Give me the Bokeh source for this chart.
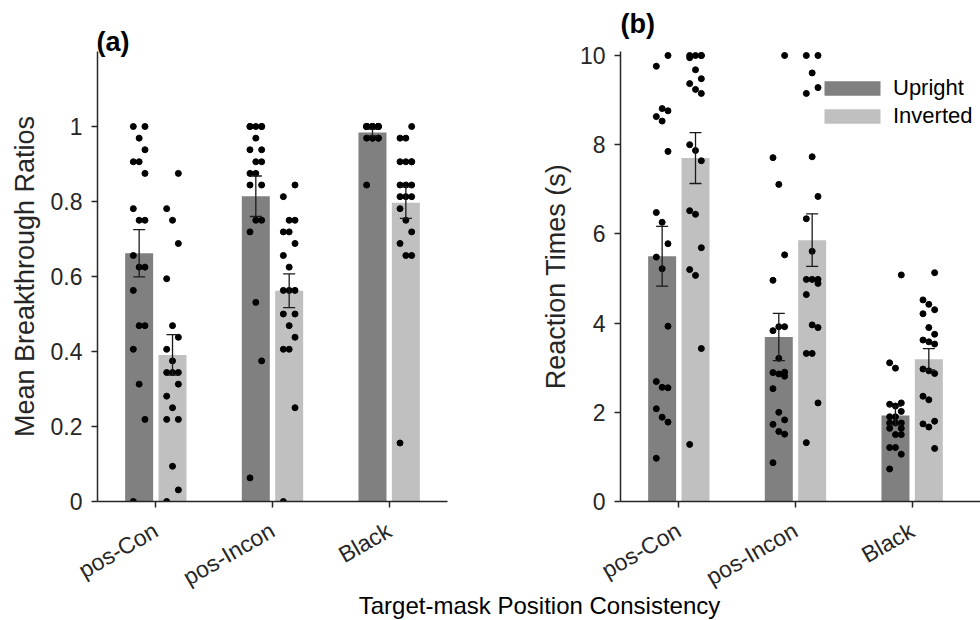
import math
from bokeh.plotting import figure
from bokeh.models import (Range1d, FixedTicker, Whisker, ColumnDataSource, Legend,
                          LegendItem, Label, TeeHead, GridBox)
from bokeh.layouts import row
from bokeh.embed import file_html
from bokeh.resources import INLINE

# ---------------- data ----------------
categories = ["pos-Con", "pos-Incon", "Black"]
conditions = ["Upright", "Inverted"]

# panel (a): mean breakthrough ratios
ratio_mean_upright = [0.662, 0.814, 0.984]
ratio_mean_inverted = [0.391, 0.562, 0.797]
ratio_sem_upright = [0.063, 0.054, 0.009]
ratio_sem_inverted = [0.054, 0.045, 0.042]

ratio_pts_upright = [
    [1.0, 1.0, 0.969, 0.938, 0.906, 0.906, 0.875, 0.781, 0.75, 0.75,
     0.656, 0.625, 0.625, 0.563, 0.469, 0.469, 0.406, 0.313, 0.219, 0.0],
    [1.0, 1.0, 1.0, 1.0, 1.0, 0.969, 0.938, 0.938, 0.906, 0.906,
     0.875, 0.875, 0.844, 0.844, 0.75, 0.75, 0.719, 0.531, 0.375, 0.063],
    [1.0, 1.0, 1.0, 1.0, 1.0, 1.0, 1.0, 1.0, 1.0, 1.0,
     1.0, 1.0, 1.0, 1.0, 0.969, 0.969, 0.969, 0.969, 0.969, 0.844],
]
ratio_pts_inverted = [
    [0.875, 0.781, 0.75, 0.688, 0.594, 0.469, 0.438, 0.406, 0.375, 0.344,
     0.344, 0.344, 0.313, 0.281, 0.25, 0.219, 0.219, 0.094, 0.031, 0.0],
    [0.844, 0.813, 0.75, 0.75, 0.719, 0.719, 0.688, 0.656, 0.625, 0.563,
     0.563, 0.563, 0.5, 0.5, 0.469, 0.438, 0.406, 0.406, 0.25, 0.0],
    [1.0, 0.969, 0.969, 0.906, 0.906, 0.906, 0.906, 0.844, 0.844, 0.844,
     0.813, 0.813, 0.813, 0.781, 0.75, 0.719, 0.688, 0.656, 0.656, 0.156],
]

# panel (b): reaction times (s)
rt_mean_upright = [5.50, 3.69, 1.93]
rt_mean_inverted = [7.70, 5.86, 3.19]
rt_sem_upright = [0.67, 0.53, 0.21]
rt_sem_inverted = [0.57, 0.59, 0.24]

rt_pts_upright = [
    [10.0, 9.76, 8.81, 8.76, 8.63, 8.53, 7.85, 6.48, 6.26, 5.78,
     5.48, 5.22, 3.93, 2.69, 2.56, 2.55, 2.08, 1.89, 1.78, 0.97],
    [10.0, 7.71, 7.11, 5.53, 4.96, 3.92, 3.92, 3.83, 3.21, 2.90,
     2.89, 2.86, 2.81, 2.53, 2.0, 1.83, 1.73, 1.57, 1.51, 0.87],
    [5.08, 3.11, 2.99, 2.21, 2.18, 2.14, 2.02, 1.90, 1.90, 1.76,
     1.76, 1.76, 1.64, 1.64, 1.50, 1.50, 1.21, 1.21, 1.06, 0.73],
]
rt_pts_inverted = [
    [10.0, 10.0, 10.0, 10.0, 9.95, 9.68, 9.48, 9.37, 9.24, 9.15,
     8.0, 7.87, 7.64, 6.52, 6.44, 5.69, 5.2, 5.07, 3.43, 1.28],
    [10.0, 10.0, 9.61, 9.28, 9.15, 7.73, 6.84, 6.34, 5.61, 4.98,
     4.98, 4.98, 4.89, 4.64, 3.96, 3.90, 3.32, 3.32, 2.21, 1.32],
    [5.13, 4.52, 4.42, 4.30, 4.21, 3.90, 3.75, 3.62, 3.58, 3.53,
     2.97, 2.93, 2.87, 2.36, 2.28, 1.80, 1.74, 1.67, 1.19],
]

ratio_ticks = [0, 0.2, 0.4, 0.6, 0.8, 1]
rt_ticks = [0, 2, 4, 6, 8, 10]
panel_tags = ["(a)", "(b)"]
x_title = "Target-mask Position Consistency"

# ---------------- style ----------------
FONT = "Liberation Sans"
AX = "#262626"
C_UP = "#808080"
C_INV = "#c0c0c0"
BAR_OFF = 0.143
BAR_W = 0.24
JIT = 0.05


def dot_xy(groups, side):
    xs, ys = [], []
    for gi, vals in enumerate(groups):
        for i, v in enumerate(sorted(vals, reverse=True)):
            slot = (1, -1, 0)[i % 3]
            xs.append(gi + 1 + side * BAR_OFF + slot * JIT)
            ys.append(v)
    return xs, ys


def panel(width, height, x_end, y_end, mb_left, mb_right, mb_top, mb_bottom,
          means_up, means_inv, sems_up, sems_inv, pts_up, pts_inv,
          yticks, ylabel, ylabel_standoff):
    p = figure(width=width, height=height, x_range=Range1d(0.5, x_end),
               y_range=Range1d(0, y_end), output_backend="svg",
               toolbar_location=None, min_border_left=mb_left,
               min_border_right=mb_right, min_border_top=mb_top,
               min_border_bottom=mb_bottom)
    p.outline_line_color = None
    p.xgrid.visible = False
    p.ygrid.visible = False

    xs_up = [i + 1 - BAR_OFF for i in range(len(categories))]
    xs_inv = [i + 1 + BAR_OFF for i in range(len(categories))]
    r_up = p.vbar(x=xs_up, top=means_up, width=BAR_W, bottom=0,
                  fill_color=C_UP, line_color=None)
    r_inv = p.vbar(x=xs_inv, top=means_inv, width=BAR_W, bottom=0,
                   fill_color=C_INV, line_color=None)

    for groups, side in ((pts_up, -1), (pts_inv, 1)):
        dx, dy = dot_xy(groups, side)
        p.scatter(dx, dy, size=6, marker="circle", fill_color="black",
                  line_color="black")

    for xs, m, s in ((xs_up, means_up, sems_up), (xs_inv, means_inv, sems_inv)):
        src = ColumnDataSource(dict(x=xs,
                                    upper=[a + b for a, b in zip(m, s)],
                                    lower=[a - b for a, b in zip(m, s)]))
        w = Whisker(base="x", upper="upper", lower="lower", source=src,
                    line_color="#1a1a1a", line_width=1.3,
                    upper_head=TeeHead(size=12, line_color="#1a1a1a", line_width=1.3),
                    lower_head=TeeHead(size=12, line_color="#1a1a1a", line_width=1.3))
        w.level = "overlay"
        p.add_layout(w)

    p.xaxis.ticker = FixedTicker(ticks=[1, 2, 3])
    p.xaxis.major_label_overrides = {i + 1: c for i, c in enumerate(categories)}
    p.xaxis.major_label_orientation = math.pi / 6
    p.yaxis.ticker = FixedTicker(ticks=yticks)
    p.yaxis.major_label_overrides = {0: "0", 1: "1"} if yticks[-1] == 1 else {}
    p.yaxis.axis_label = ylabel
    p.yaxis.axis_label_standoff = ylabel_standoff
    p.yaxis.axis_label_text_font = FONT
    p.yaxis.axis_label_text_font_size = "27px"
    p.yaxis.axis_label_text_font_style = "normal"
    p.yaxis.axis_label_text_color = AX
    for ax in (p.xaxis[0], p.yaxis[0]):
        ax.axis_line_color = AX
        ax.axis_line_width = 1.5
        ax.major_tick_line_color = AX
        ax.major_tick_line_width = 1.5
        ax.major_tick_out = 6
        ax.major_tick_in = 0
        ax.minor_tick_line_color = None
        ax.major_label_text_font = FONT
        ax.major_label_text_font_size = "23px"
        ax.major_label_text_color = AX
    p.yaxis.major_label_standoff = 9
    p.xaxis.major_label_standoff = 21
    return p, r_up, r_inv


pa, _, _ = panel(480, 620, 3.5, 1.2, 97, 33, 51, 119,
                 ratio_mean_upright, ratio_mean_inverted,
                 ratio_sem_upright, ratio_sem_inverted,
                 ratio_pts_upright, ratio_pts_inverted,
                 ratio_ticks, "Mean Breakthrough Ratios", 8)
# panel (b) frame runs to the page edge so the legend text is not clipped
pb, rb_up, rb_inv = panel(500, 620, 3.586, 10.09, 140, 0, 47, 119,
                          rt_mean_upright, rt_mean_inverted,
                          rt_sem_upright, rt_sem_inverted,
                          rt_pts_upright, rt_pts_inverted,
                          rt_ticks, "Reaction Times (s)", 6)

legend = Legend(items=[LegendItem(label=conditions[0], renderers=[rb_up]),
                       LegendItem(label=conditions[1], renderers=[rb_inv])],
                location=(197, 372), glyph_width=70, glyph_height=18,
                label_text_font=FONT, label_text_font_size="22px",
                label_text_color="black", label_standoff=6, spacing=2,
                padding=0, margin=0, border_line_color=None,
                background_fill_alpha=0)
pb.add_layout(legend)

# transparent overlay across the whole page for the shared texts
pc = figure(width=980, height=620, title=None, x_range=Range1d(0, 980),
            y_range=Range1d(0, 620), output_backend="svg", toolbar_location=None,
            min_border=0, x_axis_location=None, y_axis_location=None)
pc.outline_line_color = None
pc.background_fill_alpha = 0
pc.border_fill_alpha = 0
pc.xgrid.visible = False
pc.ygrid.visible = False
for txt, xx, yy in ((panel_tags[0], 96, 579), (panel_tags[1], 620, 597)):
    pc.add_layout(Label(x=xx, y=yy, text=txt, text_font=FONT, text_font_size="27px",
                        text_font_style="bold", text_baseline="alphabetic",
                        text_color="black"))
pc.add_layout(Label(x=539, y=15, text=x_title, text_font=FONT, text_font_size="24px",
                    text_align="center", text_baseline="alphabetic", text_color="black"))

panels = row(pa, pb)
layout = GridBox(children=[(panels, 0, 0), (pc, 0, 0)])
open("out.html", "w").write(file_html(layout, INLINE))
